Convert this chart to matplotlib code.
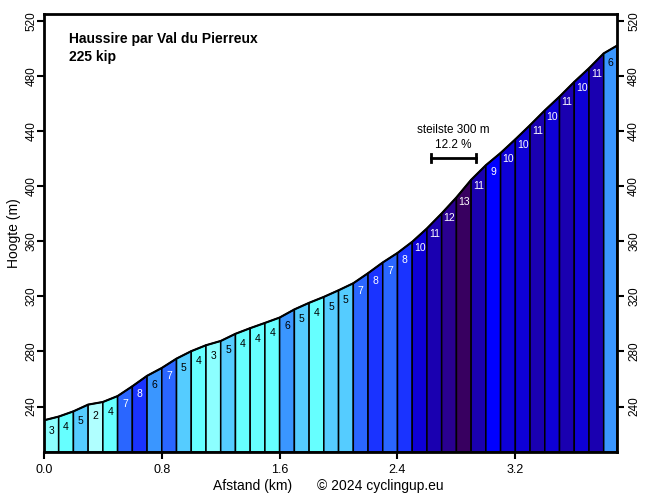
import matplotlib
matplotlib.use("Agg")
import matplotlib.pyplot as plt
import matplotlib.transforms as mtransforms
from matplotlib.patches import Polygon

plt.rcParams['font.family'] = ['Liberation Sans', 'DejaVu Sans']

# distance of each segment boundary (km)
dist = [0.0, 0.1, 0.2, 0.3, 0.4, 0.5, 0.6, 0.7, 0.8, 0.9,
        1.0, 1.1, 1.2, 1.3, 1.4, 1.5, 1.6, 1.7, 1.8, 1.9,
        2.0, 2.1, 2.2, 2.3, 2.4, 2.5, 2.6, 2.7, 2.8, 2.9,
        3.0, 3.1, 3.2, 3.3, 3.4, 3.5, 3.6, 3.7, 3.8, 3.89]
# elevation at each boundary (m)
elev = [230.0, 232.7, 236.5, 241.4, 243.3, 247.6, 254.7, 262.3, 268.0, 274.8,
        280.2, 284.5, 287.6, 292.8, 296.9, 300.7, 304.6, 310.5, 315.3, 319.6,
        324.4, 329.5, 336.8, 344.6, 351.5, 359.6, 369.3, 380.2, 391.8, 404.6,
        415.2, 424.1, 434.0, 444.3, 455.0, 465.0, 475.7, 485.6, 496.4, 502.0]
# gradient label of each segment (%)
grades = [3, 4, 5, 2, 4, 7, 8, 6, 7, 5,
          4, 3, 5, 4, 4, 4, 6, 5, 4, 5,
          5, 7, 8, 7, 8, 10, 11, 12, 13, 11,
          9, 10, 10, 11, 10, 11, 10, 11, 6]

grade_colors = {
    2: '#b0ffff', 3: '#8cffff', 4: '#66ffff', 5: '#55ccff', 6: '#3a96ff',
    7: '#2a66ff', 8: '#1a33ff', 9: '#0000ff', 10: '#0e00d6', 11: '#1a00b0',
    12: '#2a0090', 13: '#380060',
}

title = "Haussire par Val du Pierreux"
subtitle = "225 kip"
steep_text = ["steilste 300 m", "12.2 %"]
steep_range = [2.63, 2.93]
steep_y = 420.5

xticks = [0.0, 0.8, 1.6, 2.4, 3.2]
yticks = [240, 280, 320, 360, 400, 440, 480, 520]

fig = plt.figure(figsize=(6.56, 4.98), dpi=100)
ax = fig.add_axes([0.067, 0.0924, 0.8735, 0.8795])
ymin, ymax = 207, 525
ax.set_xlim(0, dist[-1])
ax.set_ylim(ymin, ymax)

for i, g in enumerate(grades):
    x0, x1 = dist[i], dist[i + 1]
    y0, y1 = elev[i], elev[i + 1]
    poly = Polygon([(x0, ymin), (x0, y0), (x1, y1), (x1, ymin)], closed=True,
                   facecolor=grade_colors[g], edgecolor='black', linewidth=1.1)
    ax.add_patch(poly)
    tc = 'white' if g >= 7 else 'black'
    ax.annotate(str(g), xy=((x0 + x1) / 2, (y0 + y1) / 2), xytext=(0, -13),
                textcoords='offset pixels', ha='center', va='center',
                fontsize=7.5, color=tc)

ax.plot(dist, elev, color='black', linewidth=1.5)

# steepest section annotation
ax.plot(steep_range, [steep_y, steep_y], color='black', linewidth=2)
for xv in steep_range:
    ax.plot([xv, xv], [steep_y - 3, steep_y + 3], color='black', linewidth=2)
xm = sum(steep_range) / 2
ax.text(xm, 440.8, steep_text[0], ha='center', va='center', fontsize=8.5)
ax.text(xm, 430.0, steep_text[1], ha='center', va='center', fontsize=8.5)

ax.text(0.0436, 0.943, title, transform=ax.transAxes, fontsize=10,
        fontweight='bold', ha='left', va='center')
ax.text(0.0436, 0.902, subtitle, transform=ax.transAxes, fontsize=10,
        fontweight='bold', ha='left', va='center')

ax.set_xticks(xticks)
ax.set_xticklabels([f"{v:.1f}" for v in xticks], fontsize=9)
ax.set_yticks(yticks)
ax.set_yticklabels([str(v) for v in yticks], fontsize=8.5)
ax.tick_params(axis='both', direction='out', length=5, width=1.5)
ax.tick_params(axis='y', which='both', left=True, right=True,
               labelleft=True, labelright=True, pad=3)
shift_right = mtransforms.ScaledTranslation(5 / 100, 0, fig.dpi_scale_trans)
for t in ax.yaxis.get_major_ticks():
    t.label1.set_rotation(90)
    t.label1.set_va('center')
    t.label1.set_transform(t.label1.get_transform() + shift_right)
    t.label2.set_rotation(90)
    t.label2.set_va('center')
for s in ax.spines.values():
    s.set_linewidth(2)

fig.text(253 / 656, 1 - 486 / 498, "Afstand (km)", ha='center', va='center', fontsize=10)
fig.text(380 / 656, 1 - 486 / 498, "\u00a9 2024 cyclingup.eu", ha='center', va='center', fontsize=10)
fig.text(14 / 656, 1 - 233 / 498, "Hoogte (m)", ha='center', va='center',
         fontsize=10, rotation=90)

fig.savefig("out.png", dpi=100)
